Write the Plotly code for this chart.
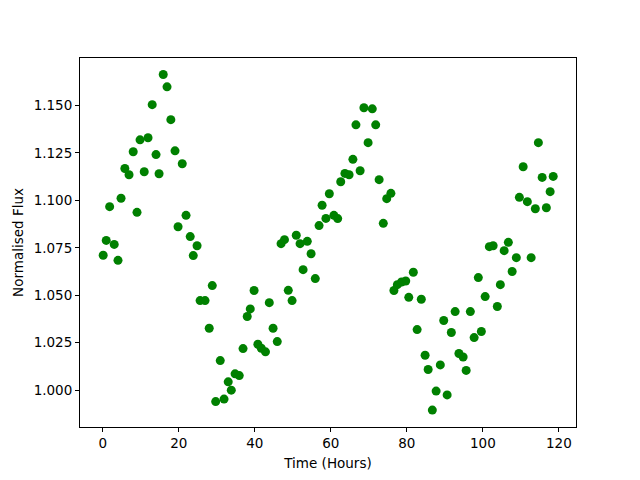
import plotly.graph_objects as go

time_hours = [0.1, 0.9, 1.8, 3.0, 4.0, 4.8, 5.8, 6.9, 8.0, 9.0, 9.8, 10.9, 11.9, 13.0, 14.0, 14.8,
              15.9, 16.9, 17.9, 19.0, 19.8, 20.9, 21.9, 23.0, 23.8, 24.8, 25.6, 26.9, 28.0, 28.8,
              29.7, 30.9, 31.9, 33.0, 33.8, 34.8, 35.9, 36.9, 38.0, 38.8, 39.8, 40.8, 41.7, 42.8,
              43.8, 44.8, 45.9, 46.9, 47.8, 48.8, 49.8, 50.9, 51.9, 52.7, 53.8, 54.8, 55.9, 56.9,
              57.7, 58.7, 59.6, 60.8, 61.8, 62.6, 63.7, 64.8, 65.8, 66.6, 67.7, 68.7, 69.8, 70.9,
              71.8, 72.7, 73.8, 74.7, 75.8, 76.6, 77.5, 78.6, 79.7, 80.5, 81.7, 82.7, 83.8, 84.8,
              85.6, 86.7, 87.7, 88.8, 89.7, 90.6, 91.7, 92.7, 93.7, 94.8, 95.6, 96.7, 97.7, 98.8,
              99.6, 100.6, 101.7, 102.7, 103.8, 104.6, 105.6, 106.7, 107.7, 108.8, 109.6, 110.6,
              111.7, 112.7, 113.8, 114.6, 115.6, 116.7, 117.7, 118.5]

norm_flux = [1.0711, 1.0789, 1.0967, 1.0768, 1.0684, 1.1011, 1.1168, 1.1135, 1.1256, 1.0937,
             1.1319, 1.1151, 1.1330, 1.1504, 1.1241, 1.1140, 1.1663, 1.1598, 1.1425, 1.1261,
             1.0861, 1.1193, 1.0921, 1.0809, 1.0709, 1.0761, 1.0472, 1.0472, 1.0326, 1.0551,
             0.9940, 1.0156, 0.9953, 1.0044, 1.0000, 1.0086, 1.0077, 1.0219, 1.0388, 1.0428,
             1.0525, 1.0242, 1.0221, 1.0202, 1.0461, 1.0326, 1.0256, 1.0772, 1.0793, 1.0526,
             1.0472, 1.0816, 1.0772, 1.0635, 1.0784, 1.0719, 1.0588, 1.0867, 1.0974, 1.0905,
             1.1035, 1.0921, 1.0904, 1.1098, 1.1142, 1.1135, 1.1216, 1.1398, 1.1156, 1.1488,
             1.1304, 1.1482, 1.1398, 1.1109, 1.0879, 1.1009, 1.1037, 1.0525, 1.0556, 1.0570,
             1.0575, 1.0489, 1.0621, 1.0319, 1.0479, 1.0184, 1.0109, 0.9895, 0.9995, 1.0133,
             1.0367, 0.9975, 1.0304, 1.0414, 1.0193, 1.0175, 1.0104, 1.0414, 1.0277, 1.0593,
             1.0309, 1.0493, 1.0756, 1.0761, 1.0441, 1.0556, 1.0735, 1.0779, 1.0625, 1.0698,
             1.1016, 1.1177, 1.0993, 1.0698, 1.0956, 1.1304, 1.1121, 1.0961, 1.1046, 1.1126]

x_ticks = [0, 20, 40, 60, 80, 100, 120]
y_ticks = [1.000, 1.025, 1.050, 1.075, 1.100, 1.125, 1.150]

fig = go.Figure(go.Scatter(
    x=time_hours, y=norm_flux, mode="markers",
    marker=dict(color="#008000", size=9, line=dict(width=0)),
))

font = dict(family="DejaVu Sans", size=13.5, color="black")
axis_common = dict(
    showgrid=False, zeroline=False, showline=True, linecolor="black", linewidth=1,
    mirror=True, ticks="outside", ticklen=4, tickwidth=1, tickcolor="black",
    tickfont=font, automargin=False,
)
fig.update_layout(
    width=640, height=480,
    margin=dict(l=80, r=64, t=58, b=53),
    paper_bgcolor="white", plot_bgcolor="white",
    showlegend=False,
    xaxis=dict(range=[-6.0, 124.5], tickvals=x_ticks, ticktext=[str(v) for v in x_ticks],
               title=dict(text="Time (Hours)", font=font, standoff=8), **axis_common),
    yaxis=dict(range=[0.9806, 1.1750], tickvals=y_ticks, ticktext=[f"{v:.3f}" for v in y_ticks],
               title=dict(text="Normalised Flux", font=font, standoff=6), **axis_common),
)
fig.write_html("out.html", config={"displayModeBar": False},
               post_script="document.body.style.margin='0';")
